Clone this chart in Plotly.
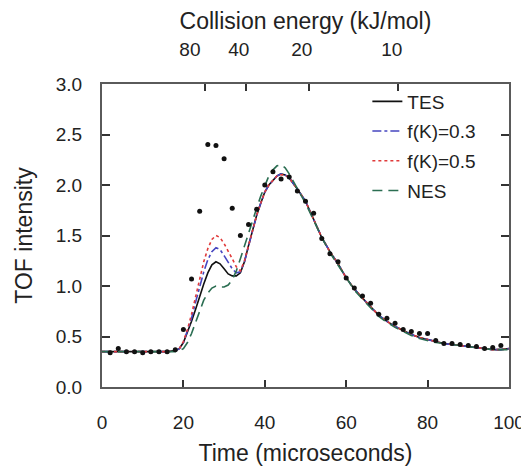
import plotly.graph_objects as go

# experimental TOF points (every 2 microseconds)
dot_time = list(range(2, 100, 2))
dot_val = [0.34, 0.38, 0.35, 0.35, 0.34, 0.35, 0.35, 0.35, 0.37, 0.57,
           1.07, 1.74, 2.40, 2.39, 2.26, 1.77, 1.50, 1.61, 1.76, 2.00,
           2.13, 2.06, 2.08, 1.94, 1.84, 1.72, 1.47, 1.32, 1.24, 1.08,
           0.98, 0.90, 0.83, 0.72, 0.68, 0.63, 0.57, 0.55, 0.53, 0.53,
           0.46, 0.43, 0.43, 0.42, 0.41, 0.40, 0.38, 0.39, 0.41]

# simulated curves
curve_time = [0, 4, 8, 12, 16, 18, 19,
              20, 21, 22, 23, 24, 25, 26, 27, 28, 29,
              30, 31, 32, 33, 34, 35, 36, 37, 38, 39,
              40, 41, 42, 43, 44, 45, 46, 47, 48,
              50, 52, 54, 56, 58, 60, 62, 64, 66, 68,
              70, 72, 74, 76, 78, 80, 82, 84, 86, 88,
              90, 92, 94, 96, 98, 100]
tes = [0.35, 0.35, 0.35, 0.35, 0.35, 0.36, 0.38,
       0.44, 0.54, 0.65, 0.77, 0.90, 1.02, 1.13, 1.21, 1.24, 1.22,
       1.17, 1.12, 1.10, 1.10, 1.13, 1.24, 1.40, 1.56, 1.70, 1.82,
       1.93, 2.00, 2.05, 2.09, 2.11, 2.10, 2.07, 2.02, 1.96,
       1.84, 1.66, 1.48, 1.34, 1.22, 1.08, 0.97, 0.88, 0.79, 0.71,
       0.65, 0.60, 0.56, 0.52, 0.49, 0.47, 0.45, 0.43, 0.42, 0.41,
       0.40, 0.39, 0.38, 0.37, 0.37, 0.38]
fk03 = [0.35, 0.35, 0.35, 0.35, 0.35, 0.36, 0.38,
        0.44, 0.55, 0.68, 0.84, 1.00, 1.14, 1.26, 1.34, 1.38, 1.36,
        1.30, 1.23, 1.17, 1.13, 1.14, 1.24, 1.40, 1.56, 1.70, 1.82,
        1.93, 2.00, 2.05, 2.09, 2.11, 2.10, 2.07, 2.02, 1.96,
        1.84, 1.66, 1.48, 1.34, 1.22, 1.08, 0.97, 0.88, 0.79, 0.71,
        0.65, 0.60, 0.56, 0.52, 0.49, 0.47, 0.45, 0.43, 0.42, 0.41,
        0.40, 0.39, 0.38, 0.37, 0.37, 0.38]
fk05 = [0.35, 0.35, 0.35, 0.35, 0.35, 0.36, 0.38,
        0.45, 0.57, 0.72, 0.90, 1.08, 1.24, 1.37, 1.46, 1.50, 1.48,
        1.42, 1.35, 1.27, 1.19, 1.15, 1.25, 1.40, 1.56, 1.70, 1.82,
        1.93, 2.00, 2.05, 2.09, 2.10, 2.10, 2.07, 2.02, 1.96,
        1.84, 1.66, 1.48, 1.34, 1.22, 1.08, 0.97, 0.88, 0.79, 0.71,
        0.65, 0.60, 0.56, 0.52, 0.49, 0.47, 0.45, 0.43, 0.42, 0.41,
        0.40, 0.39, 0.38, 0.37, 0.37, 0.38]
nes = [0.35, 0.35, 0.35, 0.35, 0.35, 0.35, 0.36,
       0.38, 0.44, 0.53, 0.64, 0.76, 0.86, 0.93, 0.98, 1.00, 0.99,
       0.99, 1.01, 1.06, 1.15, 1.27, 1.40, 1.53, 1.65, 1.77, 1.89,
       2.00, 2.09, 2.15, 2.19, 2.20, 2.17, 2.11, 2.04, 1.97,
       1.82, 1.65, 1.48, 1.33, 1.21, 1.08, 0.96, 0.87, 0.78, 0.70,
       0.64, 0.59, 0.55, 0.51, 0.48, 0.46, 0.44, 0.43, 0.42, 0.41,
       0.40, 0.39, 0.38, 0.37, 0.37, 0.37]

# top axis: collision energy ticks (positions in time units)
energy_labels = ["80", "40", "20", "10"]
energy_tick_times = [25.4, 35.3, 50.9, 72.8]
energy_label_times = [21.6, 33.6, 49.1, 71.2]

x_ticks = [0, 20, 40, 60, 80, 100]

FONT = "Liberation Sans, Arial, Helvetica, sans-serif"
AXIS_COLOR = "#5a5a5a"

fig = go.Figure()

series = [
    ("TES", tes, "#111111", "solid"),
    ("f(K)=0.3", fk03, "#4646c0", "dashdot"),
    ("f(K)=0.5", fk05, "#e03a3a", "dot"),
    ("NES", nes, "#2b6e52", "10px,6px"),
]
for name, vals, col, dash in series:
    fig.add_trace(go.Scatter(
        x=curve_time, y=vals, name=name, mode="lines",
        line=dict(color=col, width=1.6, dash=dash),
        legendgroup=name,
    ))

fig.add_trace(go.Scatter(
    x=dot_time, y=dot_val, mode="markers", showlegend=False,
    marker=dict(color="#111111", size=5),
))

# invisible helpers so the top axes get drawn
fig.add_trace(go.Scatter(x=[0, 100], y=[None, None], xaxis="x2", showlegend=False, hoverinfo="skip"))
fig.add_trace(go.Scatter(x=[0, 100], y=[None, None], xaxis="x3", showlegend=False, hoverinfo="skip"))

fig.update_layout(
    width=529, height=466,
    margin=dict(l=94, r=19, t=76, b=76),
    paper_bgcolor="white", plot_bgcolor="white",
    font=dict(family=FONT, size=19, color="#222222"),
    xaxis=dict(
        range=[0, 100], tickvals=x_ticks, ticks="inside", ticklen=7,
        tickwidth=1.5, tickcolor="#333333",
        showline=True, linecolor=AXIS_COLOR, linewidth=2, mirror=True,
        showgrid=False, zeroline=False, ticklabelstandoff=17,
        title=dict(text="Time (microseconds)", standoff=13),
    ),
    xaxis2=dict(
        range=[0, 100], overlaying="x", side="top", anchor="y",
        tickvals=energy_tick_times, showticklabels=False,
        ticks="inside", ticklen=7, tickwidth=1.5, tickcolor="#333333",
        showline=False, showgrid=False, zeroline=False,
    ),
    xaxis3=dict(
        range=[0, 100], overlaying="x", side="top", anchor="y",
        tickvals=energy_label_times, ticktext=energy_labels, ticks="",
        showline=False, showgrid=False, zeroline=False, ticklabelstandoff=23,
        title=dict(text="Collision energy (kJ/mol)", standoff=3),
    ),
    yaxis=dict(
        range=[0, 3], dtick=0.5, tickformat=".1f",
        ticks="inside", ticklen=8, tickwidth=1.5, tickcolor="#333333",
        showline=True, linecolor=AXIS_COLOR, linewidth=2, mirror="ticks",
        showgrid=False, zeroline=False, ticklabelstandoff=14,
        title=dict(text="TOF intensity", standoff=17),
    ),
    legend=dict(
        x=0.652, y=1.005, xanchor="left", yanchor="top",
        bgcolor="rgba(0,0,0,0)", borderwidth=0,
        tracegroupgap=2, font=dict(size=19),
    ),
    showlegend=True,
)

fig.write_html("out.html")
